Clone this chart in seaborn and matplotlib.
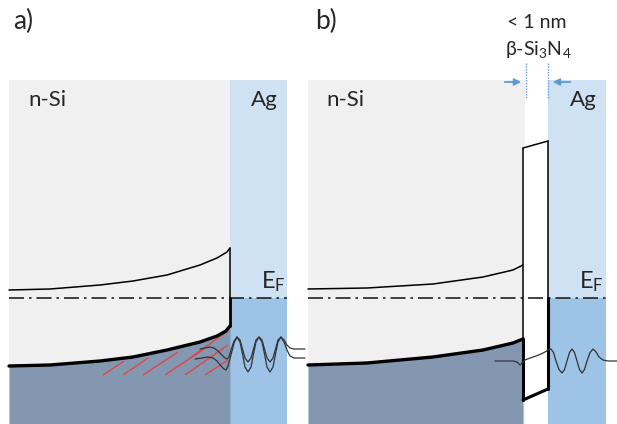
import numpy as np
import pandas as pd
import matplotlib
matplotlib.use("Agg")
import matplotlib.pyplot as plt
import seaborn as sns
from matplotlib.patches import Rectangle, Polygon

# all coordinates are in image pixels (y down)

# --- panel a: n-Si / Ag Schottky contact ---
cb_a_x = [9, 50, 100, 133, 167, 200, 217, 227, 230]
cb_a_y = [290, 289, 285, 281, 275, 265, 258, 252, 248]
vb_a_x = [9, 50, 100, 133, 167, 200, 217, 226, 230]
vb_a_y = [366, 365, 361, 357, 350, 342, 336, 331, 326]

wave_a1_x = [200, 205, 210, 214, 218, 222, 225, 227, 229, 231, 234, 237, 240, 242.5, 245,
             248, 251, 253.5, 256, 259, 262, 264.5, 267, 270, 273, 275.5, 278, 281, 284,
             287, 290, 294, 305]
wave_a1_y = [349, 348, 347, 348, 351, 355, 358, 359, 357, 350, 341, 337, 340, 349, 358,
             362, 358, 349, 340, 337, 340, 349, 358, 362, 358, 349, 340, 337, 340,
             345, 348, 349, 349]
wave_a2_x = [195, 202, 208, 213, 217, 221, 224, 226, 228, 231, 234, 237, 240, 242.5, 245,
             248, 251, 253.5, 256, 259, 262, 264.5, 267, 270, 273, 275.5, 278, 281, 284,
             287, 290, 294, 305]
wave_a2_y = [359, 358, 357, 358, 361, 366, 369, 370, 366, 355, 343, 337, 342, 354, 367,
             372, 367, 354, 342, 337, 342, 354, 367, 372, 367, 354, 342, 337, 342,
             350, 356, 358, 358]

# red hatch segments (x0, y0, x1, y1) marking interface states
hatch = [
    (103, 375, 124, 361),
    (123, 375, 148, 358),
    (143, 375, 178, 352),
    (165, 375, 204, 349),
    (185, 375, 228, 345),
    (205, 375, 228, 360),
    (190, 358, 228, 331),
]

# --- panel b: n-Si / beta-Si3N4 / Ag ---
cb_b_x = [308, 367, 433, 483, 513, 523]
cb_b_y = [289, 288, 284, 277, 270, 265]
vb_b_x = [308, 367, 433, 483, 513, 523]
vb_b_y = [365, 363, 357, 350, 343, 339]
barrier_x = [523, 548, 548, 523]
barrier_y = [148, 141, 389, 400]

wave_b_x = [495, 505, 513, 517, 520, 522, 525, 530, 536, 541, 545, 548, 551, 553.5, 556,
            559, 562, 564.5, 567, 569.5, 572, 574.5, 577, 579.5, 582, 584.5, 587, 590,
            593, 596, 599, 603, 608, 617]
wave_b_y = [361, 361, 361, 362, 365, 363, 360, 358, 356, 354, 352, 350, 349, 352.5, 361,
            369.5, 373, 369.5, 361, 352.5, 349, 352.5, 361, 369.5, 373, 369.5, 361, 352.5,
            349, 352, 357, 360, 361, 361]

ef_y = 298

GREY = "#F0F0F0"
AG_LIGHT = "#CFE2F3"
AG_DARK = "#9DC3E6"
VB_FILL = "#8497B0"
BLUE = "#5B9BD5"

sns.set_style("white")
plt.rcParams['font.family'] = ['Lato', 'DejaVu Sans']
plt.rcParams['mathtext.fontset'] = 'custom'
plt.rcParams['mathtext.rm'] = 'Lato'
plt.rcParams['mathtext.it'] = 'Lato:italic'
plt.rcParams['mathtext.bf'] = 'Lato:bold'

fig, ax = plt.subplots(figsize=(6.17, 4.24), dpi=100)
ax.set_position([0, 0, 1, 1])

# background regions
ax.add_patch(Rectangle((9, 80), 221, 344, color=GREY, lw=0))
ax.add_patch(Rectangle((230, 80), 57, ef_y - 80, color=AG_LIGHT, lw=0))
ax.add_patch(Rectangle((230, ef_y), 57, 424 - ef_y, color=AG_DARK, lw=0))
ax.fill_between(vb_a_x, vb_a_y, 424, color=VB_FILL, lw=0)

ax.add_patch(Rectangle((308, 80), 217, 344, color=GREY, lw=0))
ax.add_patch(Rectangle((548, 80), 58, ef_y - 80, color=AG_LIGHT, lw=0))
ax.add_patch(Rectangle((548, ef_y), 58, 424 - ef_y, color=AG_DARK, lw=0))
ax.fill_between(vb_b_x, vb_b_y, 424, color=VB_FILL, lw=0)
ax.add_patch(Polygon(list(zip(barrier_x, barrier_y)), closed=True, color="white", lw=0))

# hatch
for x0, y0, x1, y1 in hatch:
    ax.plot([x0, x1], [y0, y1], color="#E8403C", lw=0.9, solid_capstyle="butt")

# Fermi level
dash = (0, (9, 3, 1.5, 3))
ax.plot([9, 287], [ef_y, ef_y], color="#222222", lw=1.2, linestyle=dash)
ax.plot([308, 607], [ef_y, ef_y], color="#222222", lw=1.2, linestyle=dash)

# band edges panel a
sns.lineplot(x=cb_a_x, y=cb_a_y, ax=ax, color="black", lw=1.1, sort=False, estimator=None)
sns.lineplot(x=vb_a_x, y=vb_a_y, ax=ax, color="black", lw=2.4, sort=False, estimator=None)
ax.plot([230, 230], [cb_a_y[-1], ef_y], color="black", lw=1.1)
ax.plot([230, 230], [ef_y, vb_a_y[-1]], color="black", lw=2.0)

# band edges panel b
sns.lineplot(x=cb_b_x, y=cb_b_y, ax=ax, color="black", lw=1.1, sort=False, estimator=None)
sns.lineplot(x=vb_b_x, y=vb_b_y, ax=ax, color="black", lw=2.4, sort=False, estimator=None)
ax.plot([barrier_x[0], barrier_x[1]], [barrier_y[0], barrier_y[1]], color="black", lw=1.1)
ax.plot([barrier_x[0], barrier_x[0]], [barrier_y[0], vb_b_y[-1]], color="black", lw=1.1)
ax.plot([barrier_x[0], barrier_x[0]], [vb_b_y[-1], barrier_y[3]], color="black", lw=2.2)
ax.plot([barrier_x[3], barrier_x[2]], [barrier_y[3], barrier_y[2]], color="black", lw=2.2)
ax.plot([barrier_x[1], barrier_x[1]], [barrier_y[1], ef_y], color="black", lw=1.1)
ax.plot([barrier_x[1], barrier_x[1]], [ef_y, barrier_y[2]], color="black", lw=2.2)

# wave functions
for wx, wy in [(wave_a1_x, wave_a1_y), (wave_a2_x, wave_a2_y), (wave_b_x, wave_b_y)]:
    sns.lineplot(x=wx, y=wy, ax=ax, color="#333333", lw=0.9, sort=False, estimator=None)

# thickness marker for the nitride
for xv in (526, 548):
    ax.plot([xv, xv], [63, 98], color=BLUE, lw=1.0, linestyle=(0, (1, 1)))
ax.annotate("", xy=(524, 82), xytext=(502, 82),
            arrowprops=dict(arrowstyle="-|>", color=BLUE, lw=1.3, mutation_scale=10))
ax.annotate("", xy=(550, 82), xytext=(573, 82),
            arrowprops=dict(arrowstyle="-|>", color=BLUE, lw=1.3, mutation_scale=10))

# labels
ax.text(13, 21, "a)", fontsize=19, ha="left", va="center")
ax.text(315, 21, "b)", fontsize=19, ha="left", va="center")
ax.text(28, 100, "n-Si", fontsize=16, ha="left", va="center")
ax.text(326, 100, "n-Si", fontsize=16, ha="left", va="center")
ax.text(278, 100, "Ag", fontsize=16, ha="right", va="center")
ax.text(597, 100, "Ag", fontsize=16, ha="right", va="center")
ax.text(261, 288, r"E$_\mathrm{F}$", fontsize=17, ha="left", va="baseline")
ax.text(579, 288, r"E$_\mathrm{F}$", fontsize=17, ha="left", va="baseline")
ax.text(537, 22, "< 1 nm", fontsize=14, ha="center", va="center")
ax.text(538, 50, r"β-Si$_3$N$_4$", fontsize=14, ha="center", va="center")

ax.set_xlim(0, 617)
ax.set_ylim(424, 0)
ax.axis("off")

fig.savefig("out.png", dpi=100)
